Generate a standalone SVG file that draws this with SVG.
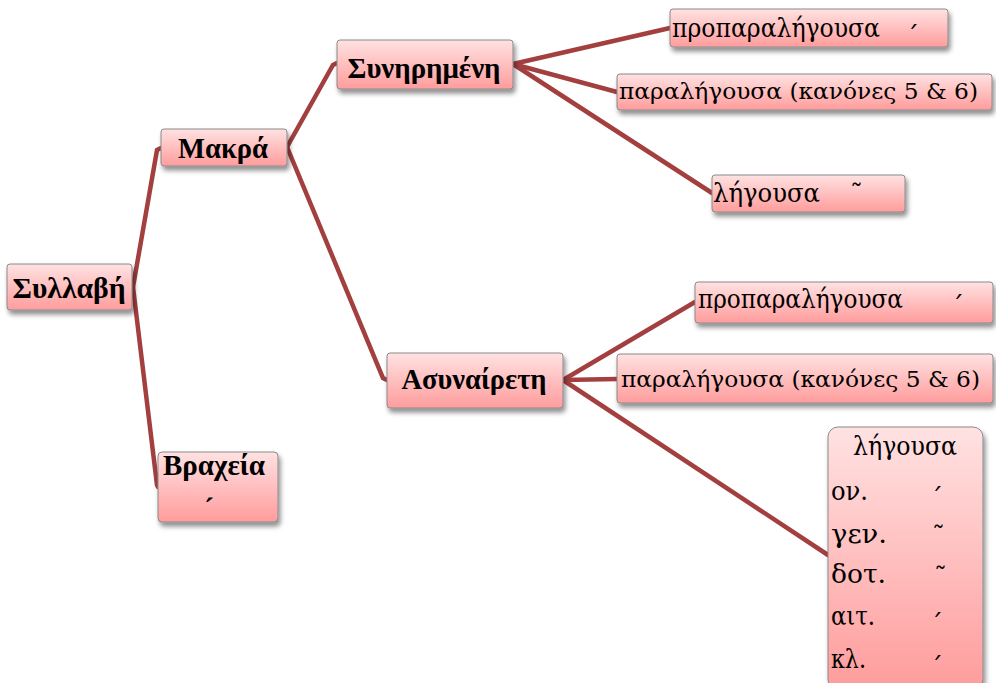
<svg xmlns="http://www.w3.org/2000/svg" width="996" height="683" viewBox="0 0 996 683">
<defs>
<linearGradient id="g" x1="0" y1="0" x2="0" y2="1">
<stop offset="0" stop-color="#FFE2E2"/>
<stop offset="1" stop-color="#FF9C9C"/>
</linearGradient>
<filter id="sh" x="-10%" y="-20%" width="130%" height="160%">
<feGaussianBlur in="SourceAlpha" stdDeviation="2.5"/>
<feOffset dx="2" dy="4" result="b"/>
<feComponentTransfer><feFuncA type="linear" slope="0.45"/></feComponentTransfer>
<feMerge><feMergeNode/><feMergeNode in="SourceGraphic"/></feMerge>
</filter>
</defs>
<style>
.box{fill:url(#g);stroke:#8a8a8a;stroke-width:1;filter:url(#sh)}
.b{font-family:"Liberation Serif","Times New Roman","DejaVu Serif",serif;font-weight:bold;font-size:29px;fill:#000;text-anchor:middle}
.t{font-family:"DejaVu Serif",serif;font-size:26px;fill:#000}
.s{font-size:23px}
.c{fill:none;stroke:#A33F3F;stroke-width:4.5;stroke-linecap:round}
</style>
<g id="connectors">
<path class="c" d="M133,287 L157,150 L161,148"/>
<path class="c" d="M133,287 L157,485 L158,487"/>
<path class="c" d="M287,147 L333,65 L337,63"/>
<path class="c" d="M287,147 L383,378 L387,380"/>
<path class="c" d="M513,64 L670,28"/>
<path class="c" d="M513,64 L617,92"/>
<path class="c" d="M513,64 L712,193"/>
<path class="c" d="M563,380 L695,302"/>
<path class="c" d="M563,380 L617,379"/>
<path class="c" d="M563,380 L828,555"/>
</g>
<g id="syllavi"><rect class="box" x="7" y="264" width="125" height="46" rx="3"/><text class="b" x="69" y="298" textLength="113" lengthAdjust="spacingAndGlyphs">Συλλαβή</text></g>
<g id="makra"><rect class="box" x="161" y="129" width="126" height="37" rx="3"/><text class="b" x="223" y="158" textLength="90" lengthAdjust="spacingAndGlyphs">Μακρά</text></g>
<g id="synirimeni"><rect class="box" x="337" y="40" width="176" height="49" rx="3"/><text class="b" x="424" y="78" textLength="153" lengthAdjust="spacingAndGlyphs">Συνηρημένη</text></g>
<g id="asynaireti"><rect class="box" x="387" y="353" width="176" height="55" rx="3"/><text class="b" x="474" y="389" textLength="145" lengthAdjust="spacingAndGlyphs">Ασυναίρετη</text></g>
<g id="vracheia"><rect class="box" x="158" y="452" width="120" height="70" rx="4"/><text class="b" x="214" y="475" textLength="102" lengthAdjust="spacingAndGlyphs">Βραχεία</text><text class="b" x="209" y="518">´</text></g>
<g id="propar1"><rect class="box" x="670" y="9" width="278" height="38" rx="3"/><text class="t" x="672" y="37" textLength="208" lengthAdjust="spacingAndGlyphs">προπαραλήγουσα</text><text class="t" x="906" y="45">´</text></g>
<g id="par1"><rect class="box" x="617" y="74" width="375" height="36" rx="3"/><text class="t s" x="619" y="99" textLength="359" lengthAdjust="spacingAndGlyphs">παραλήγουσα (κανόνες 5 &amp; 6)</text></g>
<g id="lig1"><rect class="box" x="712" y="175" width="193" height="37" rx="3"/><text class="t" x="713" y="202" textLength="107" lengthAdjust="spacingAndGlyphs">λήγουσα</text><text class="t" x="850" y="203">˜</text></g>
<g id="propar2"><rect class="box" x="695" y="282" width="298" height="41" rx="3"/><text class="t" x="698" y="308" textLength="205" lengthAdjust="spacingAndGlyphs">προπαραλήγουσα</text><text class="t" x="951" y="315">´</text></g>
<g id="par2"><rect class="box" x="617" y="354" width="376" height="49" rx="3"/><text class="t s" x="621" y="387" textLength="359" lengthAdjust="spacingAndGlyphs">παραλήγουσα (κανόνες 5 &amp; 6)</text></g>
<g id="lig2"><rect class="box" x="828" y="427" width="155" height="262" rx="10"/>
<text class="t" x="853" y="455" textLength="104" lengthAdjust="spacingAndGlyphs">λήγουσα</text>
<text class="t" x="831" y="500" textLength="37" lengthAdjust="spacingAndGlyphs">ον.</text><text class="t" x="930" y="507">´</text>
<text class="t" x="831" y="543" textLength="56" lengthAdjust="spacingAndGlyphs">γεν.</text><text class="t" x="932" y="545">˜</text>
<text class="t" x="831" y="583" textLength="55" lengthAdjust="spacingAndGlyphs">δοτ.</text><text class="t" x="934" y="586">˜</text>
<text class="t" x="831" y="625" textLength="44" lengthAdjust="spacingAndGlyphs">αιτ.</text><text class="t" x="930" y="633">´</text>
<text class="t" x="831" y="668" textLength="35" lengthAdjust="spacingAndGlyphs">κλ.</text><text class="t" x="930" y="676">´</text>
</g>
</svg>
